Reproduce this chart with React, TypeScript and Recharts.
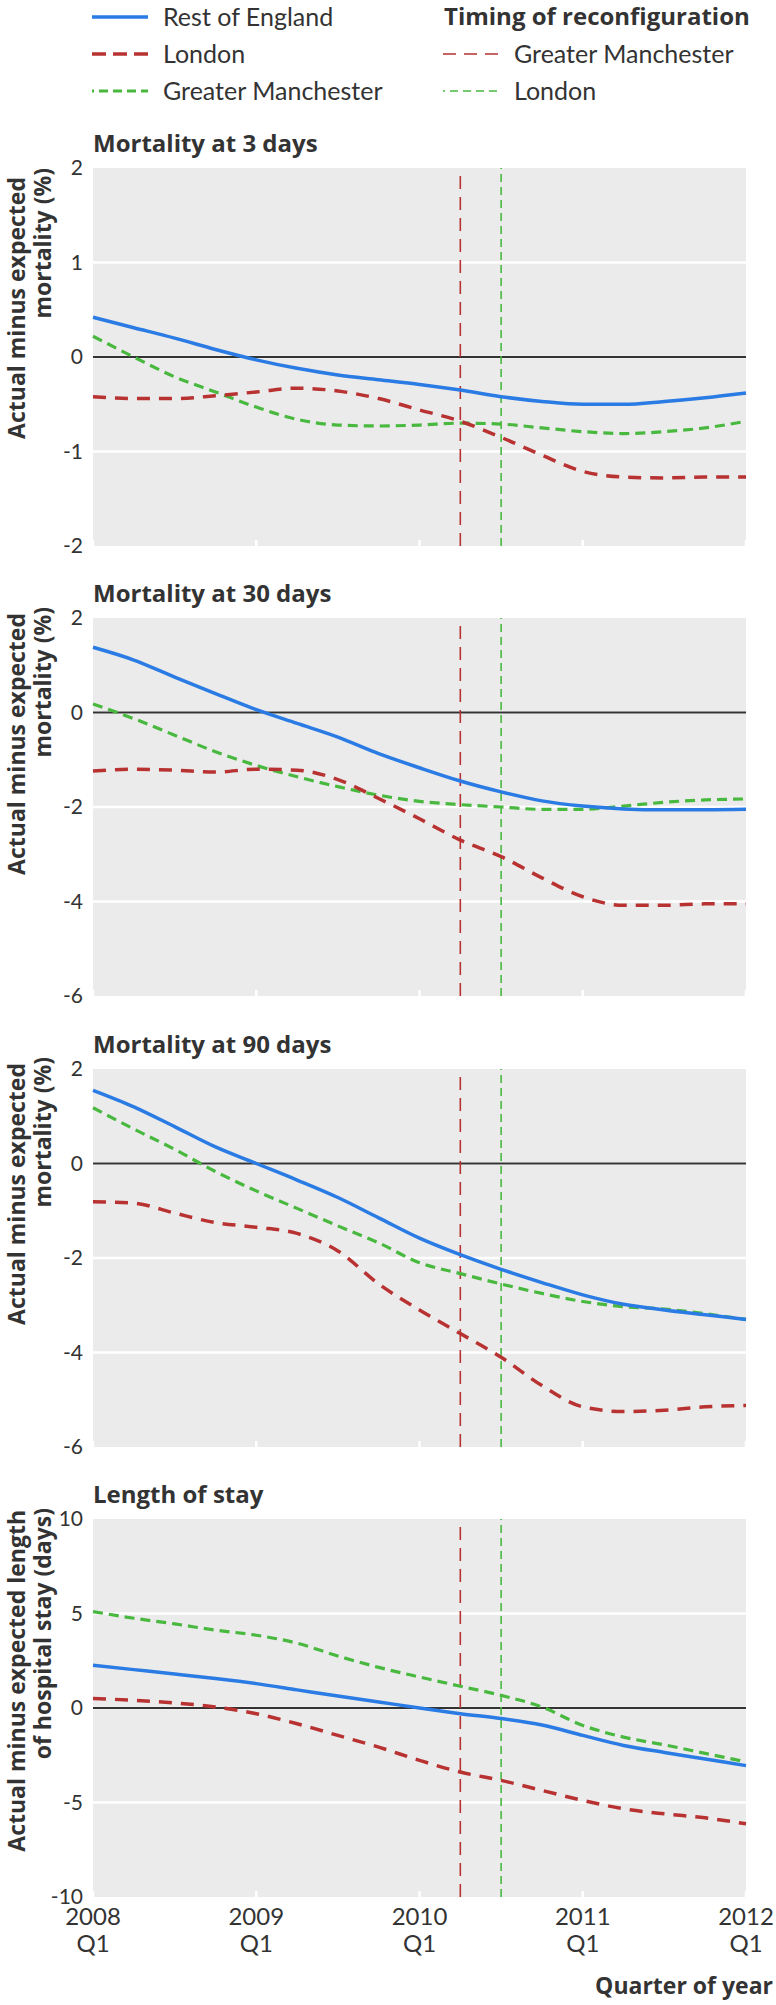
import { LineChart, Line, XAxis, YAxis, CartesianGrid, ReferenceLine } from 'recharts';

// quarters since 2008 Q1
const quarterIndex = [0, 1, 2, 3, 4, 5, 6, 7, 8, 9, 10, 11, 12, 13, 14, 15, 16];
const yearTicks = [0, 4, 8, 12, 16];
const yearLabels = ['2008', '2009', '2010', '2011', '2012'];
const quarterLabel = 'Q1';

// reconfiguration timing (quarter index)
const manchesterReconfig = 9;
const londonReconfig = 10;

const rest3Day = [0.42, 0.31, 0.2, 0.08, -0.03, -0.12, -0.19, -0.24, -0.29, -0.35, -0.42, -0.47, -0.5, -0.5, -0.47, -0.43, -0.38];
const london3Day = [-0.42, -0.44, -0.44, -0.41, -0.37, -0.33, -0.36, -0.44, -0.56, -0.68, -0.85, -1.04, -1.21, -1.27, -1.28, -1.27, -1.27];
const manchester3Day = [0.22, 0.0, -0.21, -0.37, -0.53, -0.66, -0.72, -0.73, -0.72, -0.7, -0.71, -0.75, -0.79, -0.81, -0.79, -0.75, -0.68];

const rest30Day = [1.38, 1.11, 0.75, 0.4, 0.06, -0.23, -0.52, -0.87, -1.17, -1.45, -1.68, -1.87, -1.98, -2.04, -2.06, -2.06, -2.05];
const london30Day = [-1.24, -1.2, -1.22, -1.26, -1.2, -1.22, -1.42, -1.82, -2.25, -2.7, -3.05, -3.5, -3.9, -4.08, -4.08, -4.05, -4.05];
const manchester30Day = [0.18, -0.13, -0.48, -0.83, -1.12, -1.36, -1.57, -1.75, -1.88, -1.95, -2.0, -2.05, -2.05, -1.98, -1.9, -1.85, -1.83];

const rest90Day = [1.55, 1.2, 0.78, 0.35, 0.0, -0.35, -0.72, -1.15, -1.58, -1.93, -2.24, -2.52, -2.78, -2.98, -3.1, -3.2, -3.3];
const london90Day = [-0.81, -0.84, -1.05, -1.25, -1.35, -1.48, -1.85, -2.55, -3.1, -3.6, -4.1, -4.7, -5.15, -5.25, -5.22, -5.15, -5.12];
const manchester90Day = [1.18, 0.73, 0.3, -0.17, -0.58, -0.95, -1.32, -1.68, -2.1, -2.33, -2.55, -2.75, -2.92, -3.03, -3.08, -3.18, -3.3];

const restStay = [2.26, 2.03, 1.8, 1.56, 1.29, 0.96, 0.63, 0.32, 0.0, -0.3, -0.56, -0.9, -1.45, -1.98, -2.35, -2.7, -3.05];
const londonStay = [0.5, 0.41, 0.27, 0.05, -0.3, -0.83, -1.45, -2.07, -2.77, -3.39, -3.83, -4.36, -4.89, -5.33, -5.6, -5.81, -6.13];
const manchesterStay = [5.1, 4.75, 4.45, 4.12, 3.85, 3.43, 2.75, 2.15, 1.64, 1.15, 0.67, 0.05, -0.92, -1.54, -1.95, -2.4, -2.85];

const BLUE = '#2a7be4';
const RED = '#b83232';
const GREEN = '#48b83f';
const TEXT = '#333333';
const PANEL_BG = '#ebebeb';

const PLOT_LEFT = 93;
const PLOT_HEIGHT = 378;
const MARGIN_TOP = 16;
const BOLD = '"Open Sans", sans-serif';
const REGULAR = 'Lato, sans-serif';

const toRows = (rest: number[], london: number[], manchester: number[]) =>
    quarterIndex.map((q, i) => ({ q, rest: rest[i], london: london[i], manchester: manchester[i] }));

const panels = [
    {
        title: 'Mortality at 3 days',
        yLabel: ['Actual minus expected', 'mortality (%)'],
        labelEnds: [9, 0],
        top: 168,
        domain: [-2, 2],
        ticks: [-2, -1, 0, 1, 2],
        rows: toRows(rest3Day, london3Day, manchester3Day),
    },
    {
        title: 'Mortality at 30 days',
        yLabel: ['Actual minus expected', 'mortality (%)'],
        labelEnds: [-5, -11],
        top: 618,
        domain: [-6, 2],
        ticks: [-6, -4, -2, 0, 2],
        rows: toRows(rest30Day, london30Day, manchester30Day),
    },
    {
        title: 'Mortality at 90 days',
        yLabel: ['Actual minus expected', 'mortality (%)'],
        labelEnds: [-6, -12],
        top: 1069,
        domain: [-6, 2],
        ticks: [-6, -4, -2, 0, 2],
        rows: toRows(rest90Day, london90Day, manchester90Day),
    },
    {
        title: 'Length of stay',
        yLabel: ['Actual minus expected length', 'of hospital stay (days)'],
        labelEnds: [-9, -11],
        top: 1519,
        domain: [-10, 10],
        ticks: [-10, -5, 0, 5, 10],
        rows: toRows(restStay, londonStay, manchesterStay),
    },
];

const makeQuarterTick = (showLabels: boolean) => (props: any) => {
    const { x, payload } = props;
    const label = yearLabels[yearTicks.indexOf(payload.value)];
    const bottom = MARGIN_TOP + PLOT_HEIGHT;
    return (
        <g>
            <line x1={x} x2={x} y1={bottom - 6} y2={bottom} stroke="#ffffff" strokeWidth={2.5} />
            {showLabels && (
                <text x={x} textAnchor="middle" fill={TEXT} fontSize={24} fontFamily={REGULAR}>
                    <tspan x={x} y={bottom + 28}>{label}</tspan>
                    <tspan x={x} y={bottom + 55}>{quarterLabel}</tspan>
                </text>
            )}
        </g>
    );
};

function Panel({ panel, showLabels }: { panel: (typeof panels)[number]; showLabels: boolean }) {
    const axisHeight = showLabels ? 90 : 16;
    // white gridlines only between the edges
    const innerTicks = panel.ticks.slice(1, -1);
    return (
        <div style={{ position: 'absolute', left: 0, top: panel.top - MARGIN_TOP, width: 776 }}>
            <LineChart
                width={776}
                height={MARGIN_TOP + PLOT_HEIGHT + axisHeight}
                data={panel.rows}
                margin={{ top: MARGIN_TOP, right: 30, bottom: 0, left: 0 }}
            >
                <CartesianGrid
                    vertical={false}
                    horizontalValues={innerTicks}
                    stroke="#ffffff"
                    strokeWidth={2.5}
                    fill={PANEL_BG}
                    fillOpacity={1}
                />
                <XAxis
                    dataKey="q"
                    type="number"
                    domain={[0, 16]}
                    ticks={yearTicks}
                    interval={0}
                    height={axisHeight}
                    tickLine={false}
                    axisLine={false}
                    tickSize={0}
                    tickMargin={0}
                    tick={makeQuarterTick(showLabels)}
                />
                <YAxis
                    type="number"
                    domain={panel.domain}
                    ticks={panel.ticks}
                    interval={0}
                    width={PLOT_LEFT}
                    tickLine={false}
                    axisLine={false}
                    tickSize={0}
                    tickMargin={10}
                    tick={{ fill: TEXT, fontSize: 21, fontFamily: REGULAR }}
                />
                <ReferenceLine y={0} stroke={TEXT} strokeWidth={1.8} />
                <ReferenceLine x={manchesterReconfig} stroke={RED} strokeWidth={1.6} strokeDasharray="13 8" />
                <ReferenceLine x={londonReconfig} stroke={GREEN} strokeWidth={1.6} strokeDasharray="8 5" />
                <Line
                    type="monotone"
                    dataKey="manchester"
                    stroke={GREEN}
                    strokeWidth={3.2}
                    strokeDasharray="10 6"
                    dot={false}
                    isAnimationActive={false}
                />
                <Line
                    type="monotone"
                    dataKey="london"
                    stroke={RED}
                    strokeWidth={3.5}
                    strokeDasharray="13 9"
                    dot={false}
                    isAnimationActive={false}
                />
                <Line
                    type="monotone"
                    dataKey="rest"
                    stroke={BLUE}
                    strokeWidth={3.5}
                    dot={false}
                    isAnimationActive={false}
                />
            </LineChart>
        </div>
    );
}

function Overlay() {
    return (
        <svg
            width={776}
            height={2005}
            style={{ position: 'absolute', left: 0, top: 0, pointerEvents: 'none' }}
        >
            {/* legend */}
            <line x1={92} x2={148} y1={17} y2={17} stroke={BLUE} strokeWidth={3.5} />
            <line x1={92} x2={148} y1={54} y2={54} stroke={RED} strokeWidth={3.5} strokeDasharray="14 7" />
            <line x1={92} x2={148} y1={91} y2={91} stroke={GREEN} strokeWidth={3} strokeDasharray="9 5" strokeDashoffset={7} />
            <g fill={TEXT} fontSize={25} fontFamily={REGULAR}>
                <text x={163} y={26}>Rest of England</text>
                <text x={163} y={63}>London</text>
                <text x={163} y={100}>Greater Manchester</text>
                <text x={514} y={63}>Greater Manchester</text>
                <text x={514} y={100}>London</text>
            </g>
            <text x={444} y={25} fill={TEXT} fontSize={24} fontWeight={700} fontFamily={BOLD}>
                Timing of reconfiguration
            </text>
            <line x1={443} x2={498} y1={54} y2={54} stroke={RED} strokeWidth={1.6} strokeDasharray="13 8" />
            <line x1={443} x2={498} y1={91} y2={91} stroke={GREEN} strokeWidth={1.6} strokeDasharray="8 5" strokeDashoffset={6} />

            {panels.map(p => (
                <g key={p.title} fill={TEXT} fontWeight={700} fontFamily={BOLD}>
                    <text x={PLOT_LEFT} y={p.top - 16} fontSize={24}>
                        {p.title}
                    </text>
                    <text
                        transform="rotate(-90)"
                        x={-(p.top + p.labelEnds[0])}
                        y={24.5}
                        textAnchor="end"
                        fontSize={23}
                    >
                        {p.yLabel[0]}
                    </text>
                    <text
                        transform="rotate(-90)"
                        x={-(p.top + p.labelEnds[1])}
                        y={51}
                        textAnchor="end"
                        fontSize={23}
                    >
                        {p.yLabel[1]}
                    </text>
                </g>
            ))}

            <text x={773} y={1994} textAnchor="end" fill={TEXT} fontSize={23} fontWeight={700} fontFamily={BOLD}>
                Quarter of year
            </text>
        </svg>
    );
}

export default function App() {
    return (
        <div style={{ position: 'absolute', left: 0, top: 0, width: 776, height: 2005, background: '#ffffff' }}>
            {panels.map((p, i) => (
                <Panel key={p.title} panel={p} showLabels={i === panels.length - 1} />
            ))}
            <Overlay />
        </div>
    );
}
